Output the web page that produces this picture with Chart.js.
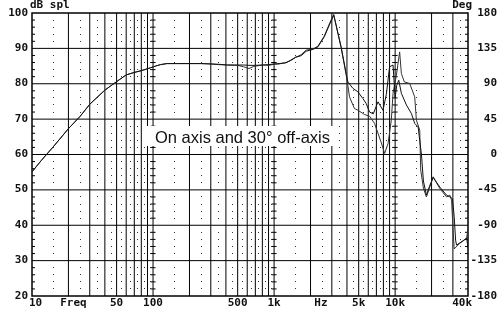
<!DOCTYPE html>
<html><head><meta charset="utf-8">
<script src="https://cdn.jsdelivr.net/npm/chart.js@4/dist/chart.umd.min.js"></script>
<style>html,body{margin:0;padding:0;background:#fff;}canvas{display:block;}</style>
</head><body>
<canvas id="c" width="500" height="318"></canvas>
<script>
// ---- data ----
const freqOn = [10,12,15,20,25,30,40,50,60,70, 80,95,105,115,130,160,200,250,300,350, 414,500,560,620,700,800,900,1000,1100,1250, 1380,1500,1670,1840,2090,2300,2600,2860,3110,3580, 3940,4070,4480,4930,5420,5770,6150,6600,7220,7940, 8460,9000,9610,10000,10300,10720,11260,12390,13620,14510, 15490,16500,17130,18130,19220,20620,23390,26590,28330,29800, 30760,31600,32150,36000,39000,40000];
const dbOn = [55.1,58.4,62.2,67.3,70.8,74.2,78.2,80.6,82.5,83.2, 83.7,84.5,85.0,85.4,85.7,85.7,85.7,85.7,85.6,85.5, 85.3,85.3,85.3,85.2,85.2,85.3,85.4,85.6,85.7,85.9, 86.7,87.5,87.9,89.2,89.7,90.4,93.3,96.6,99.4,90.4, 82.9,80.5,78.7,77.7,75.8,74.4,72.0,71.5,74.9,72.5, 77.0,84.8,85.3,76.0,79.5,81.0,77.3,74.0,71.6,68.8, 67.8,60.0,52.5,48.5,51.0,53.5,50.8,48.5,48.0,47.5, 42.4,35.8,34.4,35.5,36.4,33.6];
const freqOff = [10,12,15,20,25,30,40,50,60,70, 80,95,105,115,130,160,200,250,300,350, 414,500,560,620,680,800,900,1000,1100,1250, 1380,1500,1670,1840,2090,2300,2600,2860,3110,3580, 3940,4070,4200,4610,4930,5590,6150,6760,7690,8190, 8740,9300,9610,10240,10900,11260,11920,13190,14510,14990, 15970,16270,17130,18130,19220,20620,23390,26590,28330,29260, 30220,30760,34250,38940,40000];
const dbOff = [55.1,58.4,62.2,67.3,70.8,74.2,78.2,80.6,82.5,83.2, 83.7,84.5,85.0,85.4,85.7,85.7,85.7,85.7,85.6,85.4, 85.3,85.2,84.8,84.3,84.9,85.3,85.2,85.5,85.6,86.0, 86.6,87.4,88.2,89.5,89.8,90.6,93.5,96.9,99.6,90.2, 82.5,79.5,76.3,73.0,72.5,71.3,70.8,68.8,63.3,60.3, 63.1,69.7,77.3,82.4,89.0,82.9,80.5,80.1,76.3,69.7, 66.9,55.6,50.5,48.0,50.5,53.7,50.4,48.0,48.5,47.1, 37.7,33.3,34.9,36.3,39.0];

const xTickValues = [10, 22, 50, 100, 500, 1000, 2440, 5000, 10000, 40000];
const xTickLabels = ['10','Freq','50','100','500','1k','Hz','5k','10k','40k'];
const dbTicks = [100,90,80,70,60,50,40,30,20];
const degTicks = [180,135,90,45,0,-45,-90,-135,-180];
const decadeLines = [100, 1000, 10000];
const leftTitle = 'dB spl';
const rightTitle = 'Deg';
const annotationText = 'On axis and 30\u00B0 off-axis';

// grid positions (1-2-3..9 per decade, dotted halfway)
const majorFreqs = [], dotFreqs = [];
for (let d = 10; d <= 10000; d *= 10) {
  for (let m = 1; m <= 9; m++) {
    const f = m * d;
    if (f > 10 && f < 40000) majorFreqs.push(f);
    const h = (m + 0.5) * d;
    if (h < 40000) dotFreqs.push(h);
  }
}
const minorDb = [];
for (let v = 22; v < 100; v += 2) if (v % 10 !== 0) minorDb.push(v);
const majorDb = [30,40,50,60,70,80,90];

const LABEL_FONT = 'bold 10px "DejaVu Sans Mono"';
const SX = 1.1;

function txt(ctx, t, x, y, align) {
  ctx.save();
  ctx.translate(x, y);
  ctx.scale(SX, 1);
  ctx.textAlign = align;
  ctx.textBaseline = 'middle';
  ctx.fillText(t, 0, 0);
  ctx.restore();
}

const framePlugin = {
  id: 'frame',
  beforeDatasetsDraw(chart) {
    const {ctx, chartArea: a, scales} = chart;
    const x = scales.x, y = scales.y;
    ctx.save();
    ctx.strokeStyle = '#000';
    ctx.lineWidth = 1;
    ctx.beginPath();
    for (const f of majorFreqs) {
      const px = x.getPixelForValue(f);
      ctx.moveTo(px, a.top); ctx.lineTo(px, a.bottom);
    }
    for (const v of majorDb) {
      const py = y.getPixelForValue(v);
      ctx.moveTo(a.left, py); ctx.lineTo(a.right, py);
    }
    // short ticks on decade lines and borders
    for (const v of minorDb) {
      const py = y.getPixelForValue(v);
      for (const f of decadeLines) {
        const px = x.getPixelForValue(f);
        ctx.moveTo(px - 2.5, py); ctx.lineTo(px + 2.5, py);
      }
      ctx.moveTo(a.left, py); ctx.lineTo(a.left + 3, py);
      ctx.moveTo(a.right - 3, py); ctx.lineTo(a.right, py);
    }
    ctx.stroke();
    // dotted columns
    ctx.fillStyle = '#333';
    for (const f of dotFreqs) {
      const px = Math.round(x.getPixelForValue(f) - 0.5);
      for (const v of minorDb) {
        const py = Math.round(y.getPixelForValue(v) - 0.5);
        ctx.fillRect(px, py, 1, 1);
      }
    }
    // frame
    ctx.lineWidth = 1.5;
    ctx.strokeRect(a.left, a.top, a.right - a.left, a.bottom - a.top);
    // annotation box
    ctx.fillStyle = '#fff';
    ctx.fillRect(144, 126, 193, 20);
    ctx.fillStyle = '#111';
    ctx.font = '16.5px "Liberation Sans"';
    ctx.textAlign = 'center';
    ctx.textBaseline = 'alphabetic';
    ctx.fillText(annotationText, 242.5, 143);
    ctx.restore();
  },
  afterDraw(chart) {
    const {ctx, chartArea: a, scales} = chart;
    const x = scales.x, y = scales.y, y2 = scales.y2;
    ctx.save();
    ctx.fillStyle = '#111';
    ctx.font = LABEL_FONT;
    for (const v of dbTicks) txt(ctx, String(v), 28, y.getPixelForValue(v), 'right');
    for (const v of degTicks) txt(ctx, String(v), 497, y2.getPixelForValue(v), 'right');
    txt(ctx, leftTitle, 30, 5, 'left');
    txt(ctx, rightTitle, 472, 5, 'right');
    xTickValues.forEach((v, i) => {
      const t = xTickLabels[i];
      const w = ctx.measureText(t).width * SX;
      let cx = x.getPixelForValue(v);
      cx = Math.max(cx, 29 + w / 2);
      cx = Math.min(cx, 472 - w / 2);
      txt(ctx, t, cx, 303, 'center');
    });
    ctx.restore();
  }
};

const toPts = (fs, ds) => fs.map((f, i) => ({x: f, y: ds[i]}));

new Chart(document.getElementById('c'), {
  type: 'line',
  data: {
    datasets: [
      {label: 'On axis', data: toPts(freqOn, dbOn), borderColor: '#111', borderWidth: 1, pointRadius: 0, tension: 0},
      {label: '30\u00B0 off-axis', data: toPts(freqOff, dbOff), borderColor: '#333', borderWidth: 1, pointRadius: 0, tension: 0}
    ]
  },
  options: {
    responsive: false,
    animation: false,
    devicePixelRatio: 1,
    layout: {padding: {left: 32, right: 32, top: 13, bottom: 22}},
    plugins: {legend: {display: false}, tooltip: {enabled: false}},
    scales: {
      x: {type: 'logarithmic', min: 10, max: 40000, display: false},
      y: {type: 'linear', min: 20, max: 100, display: false},
      y2: {type: 'linear', min: -180, max: 180, display: false, position: 'right'}
    }
  },
  plugins: [framePlugin]
});
</script>
</body></html>
